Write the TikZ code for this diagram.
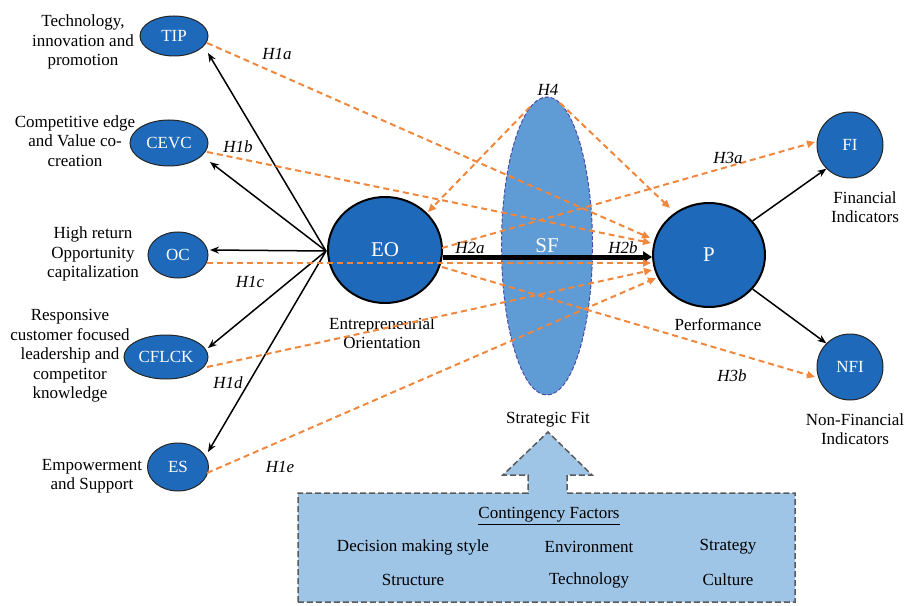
\documentclass[tikz,border=0pt]{standalone}
\usepackage{fontspec}
\setmainfont{LiberationSerif}[Extension=.ttf, UprightFont=*-Regular, BoldFont=*-Bold, ItalicFont=*-Italic, BoldItalicFont=*-BoldItalic]
\usetikzlibrary{shapes.geometric,arrows.meta,calc}
\definecolor{nodeblue}{RGB}{30,105,185}
\definecolor{sfblue}{RGB}{95,155,212}
\definecolor{boxblue}{RGB}{158,196,230}
\definecolor{orangec}{RGB}{240,135,60}
\definecolor{boxline}{RGB}{90,90,90}
\begin{document}
\begin{tikzpicture}[x=1bp,y=-1bp, font=\fontsize{17bp}{19.5bp}\selectfont,
  sm/.style={ellipse, draw=black!85, line width=1bp, fill=nodeblue, text=white, inner sep=0pt},
  big/.style={ellipse, draw=black, line width=2bp, fill=nodeblue, text=white, inner sep=0pt, font=\fontsize{21bp}{24bp}\selectfont},
  lbl/.style={align=center, inner sep=0pt},
  hyp/.style={font=\fontsize{17bp}{20bp}\selectfont\itshape, inner sep=0pt},
  blk/.style={draw=black, line width=1.5bp, -{Stealth[length=9bp,width=7bp]}},
  ora/.style={draw=orangec, line width=2bp, dash pattern=on 6bp off 4bp, -{Triangle[length=8bp,width=7bp]}}
]
\useasboundingbox (0,0) rectangle (910,606);

% contingency box with arrow
\draw[fill=boxblue, draw=boxline, line width=1.5bp, dash pattern=on 6bp off 3bp]
  (298,602) -- (298,493) -- (528,493) -- (528,475) -- (503,475) -- (548,432)
  -- (592,475) -- (567,475) -- (567,493) -- (795,493) -- (795,602) -- cycle;
\node[lbl] (cf) at (549,516) {\underline{Contingency Factors}};
\node[lbl] (c1) at (413,547) {Decision making style};
\node[lbl] (c2) at (589,547) {Environment};
\node[lbl] (c3) at (728,547) {Strategy};
\node[lbl] (c4) at (413,580) {Structure};
\node[lbl] (c5) at (589,580) {Technology};
\node[lbl] (c6) at (728,580) {Culture};

% strategic fit
\node[ellipse, fill=sfblue, draw=black!50!blue!70, line width=1bp, dash pattern=on 4bp off 2bp, minimum width=91bp, minimum height=298bp, inner sep=0pt] (SF) at (547,246) {};
\node[text=white, font=\fontsize{21bp}{24bp}\selectfont, inner sep=0pt] (sft) at (547,246) {SF};
\node[lbl] (tSF) at (548,420) {Strategic Fit};

% main nodes
\node[big, minimum width=114bp, minimum height=106bp] (EO) at (385,250) {EO};
\node[big, minimum width=112bp, minimum height=104bp] (P) at (709,255) {P};
\node[sm, minimum width=66bp, minimum height=66bp] (FI) at (850,145) {FI};
\node[sm, minimum width=66bp, minimum height=66bp] (NFI) at (850,367) {NFI};

\node[sm, minimum width=68bp, minimum height=40bp] (TIP) at (174,36) {TIP};
\node[sm, minimum width=78bp, minimum height=46bp] (CEVC) at (169,143) {CEVC};
\node[sm, minimum width=60bp, minimum height=46bp] (OC) at (178,255) {OC};
\node[sm, minimum width=84bp, minimum height=44bp] (CFLCK) at (166,357) {CFLCK};
\node[sm, minimum width=61bp, minimum height=48bp] (ES) at (178,467) {ES};

% labels
\node[lbl] (tTIP) at (83,42) {Technology,\\innovation and\\promotion};
\node[lbl] (tCEVC) at (75,141) {Competitive edge\\and Value co-\\creation};
\node[lbl] (tOC) at (93,254) {High return\\Opportunity\\capitalization};
\node[lbl] (tCF) at (70,356) {Responsive\\customer focused\\leadership and\\competitor\\knowledge};
\node[lbl] (tES) at (92,476) {Empowerment\\and Support};
\node[lbl] (tEO) at (382,333) {Entrepreneurial\\Orientation};
\node[lbl] (tP) at (718,325) {Performance};
\node[lbl] (tFI) at (865,207) {Financial\\Indicators};
\node[lbl] (tNFI) at (855,429) {Non-Financial\\Indicators};

% black arrows from EO
\coordinate (o) at ($(EO.west)+(-1,1)$);
\draw[blk] (o) -- ($(TIP)+(34,17)$);
\draw[blk] (o) -- ($(CEVC)+(41,19)$);
\draw[blk] (o) -- ($(OC)+(32,-5)$);
\draw[blk] (o) -- ($(CFLCK)+(42,-9)$);
\draw[blk] (o) -- ($(ES)+(30,-15)$);

% thick arrow EO -> P
\draw[line width=5bp, -{Triangle[length=9bp,width=11bp]}] ($(EO.east)+(0,7)$) -- ($(P.west)+(0,2)$);

% P -> FI, NFI
\draw[blk] (P.38) -- (FI.225);
\draw[blk] (P.-38) -- (NFI.135);

% orange dashed hypotheses
\draw[ora] ($(TIP)+(33,7)$) -- ($(P)+(-59,-17)$);
\draw[ora] ($(CEVC)+(38,9)$) -- ($(P)+(-58,-12)$);
\draw[ora] ($(OC)+(29,8)$) -- ($(P)+(-58,8)$);
\draw[ora] ($(CFLCK)+(41,10)$) -- ($(P)+(-57,15)$);
\draw[ora] ($(ES)+(29,6)$) -- ($(P)+(-53,23)$);
\draw[ora] ($(SF)+(-17,-139)$) -- ($(EO)+(43,-38)$);
\draw[ora] ($(SF)+(13,-143)$) -- ($(P)+(-39,-47)$);
\draw[ora] ($(EO)+(57,-2)$) -- ($(FI)+(-35,-3)$);
\draw[ora] ($(EO)+(57,17)$) -- ($(NFI)+(-35,10)$);

% hypothesis labels
\node[hyp] (h1a) at (277,54) {H1a};
\node[hyp] (h1b) at (238,147) {H1b};
\node[hyp] (h1c) at (250,282) {H1c};
\node[hyp] (h1d) at (228,383) {H1d};
\node[hyp] (h1e) at (280,467) {H1e};
\node[hyp] (h4) at (548,90) {H4};
\node[hyp] (h2a) at (470,248) {H2a};
\node[hyp] (h2b) at (623,248) {H2b};
\node[hyp] (h3a) at (728,158) {H3a};
\node[hyp] (h3b) at (732,376) {H3b};
\end{tikzpicture}
\end{document}
